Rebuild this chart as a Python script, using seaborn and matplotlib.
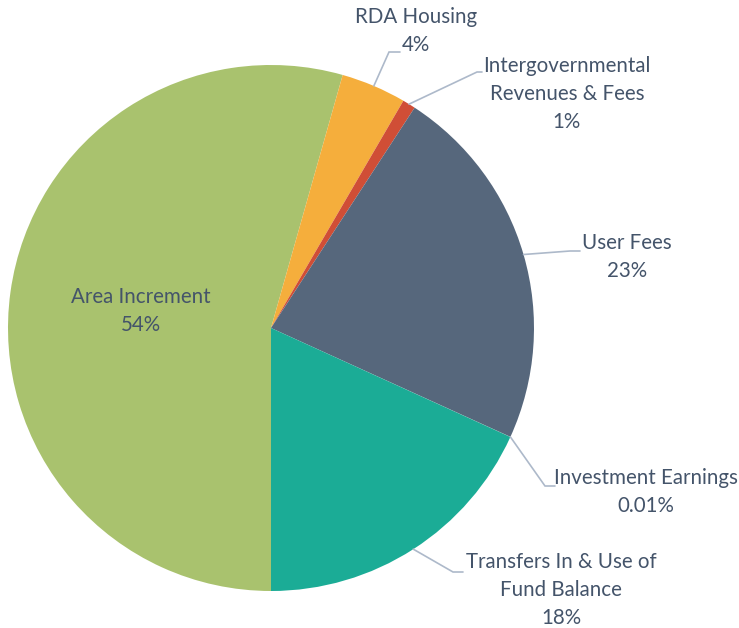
import numpy as np
import matplotlib
matplotlib.use("Agg")
import matplotlib.pyplot as plt
import seaborn as sns

# ---- data ----
categories = ["Area Increment", "RDA Housing", "Intergovernmental\nRevenues & Fees",
              "User Fees", "Investment Earnings", "Transfers In & Use of\nFund Balance"]
values = [54.4, 4.0, 0.8, 22.6, 0.01, 18.2]
pct_labels = ["54%", "4%", "1%", "23%", "0.01%", "18%"]
colors = ["#A9C26E", "#F5AE3C", "#D04E36", "#56677C", "#8A8A8A", "#1BAC96"]

sns.set_theme(style="white")
plt.rcParams['font.family'] = ['Lato', 'DejaVu Sans']

W, H = 739, 628
fig = plt.figure(figsize=(W / 100, H / 100), dpi=100)
ax = fig.add_axes([0, 0, 1, 1])

def Y(y):
    return H - y

cx, cy, R = 271, 328, 263
wedges, _ = ax.pie(values, colors=colors, startangle=270, counterclock=False,
                   center=(cx, Y(cy)), radius=R,
                   wedgeprops=dict(linewidth=0, antialiased=True))
ax.set_xlim(0, W)
ax.set_ylim(0, H)
ax.set_aspect('equal')
ax.set_axis_off()

text_color = "#44546A"
line_color = "#ADB9CA"
fs = 14.8

# label layout (text center, elbow, line end) in image pixels
layout = {
    0: dict(text=(141, 311)),
    1: dict(text=(416, 31), elbow=(389, 52), end=(400, 52)),
    2: dict(text=(567, 94), elbow=(477, 72), end=(482, 72)),
    3: dict(text=(627, 257), elbow=(570, 251), end=(580, 251)),
    4: dict(text=(646, 492), elbow=(545, 486), end=(555, 486)),
    5: dict(text=(561, 590), elbow=(453, 572), end=(463, 572)),
}

for i, w in enumerate(wedges):
    lay = layout[i]
    tx, ty = lay["text"]
    ax.text(tx, Y(ty), f"{categories[i]}\n{pct_labels[i]}", ha="center", va="center",
            color=text_color, fontsize=fs, linespacing=1.5)
    if "elbow" in lay:
        ang = np.deg2rad((w.theta1 + w.theta2) / 2)
        sx = cx + R * np.cos(ang)
        sy = Y(cy) + R * np.sin(ang)
        ex, ey = lay["elbow"]
        fx, fy = lay["end"]
        ax.plot([sx, ex, fx], [sy, Y(ey), Y(fy)], color=line_color, lw=1.2,
                solid_joinstyle="miter")

fig.savefig("out.png", dpi=100)
